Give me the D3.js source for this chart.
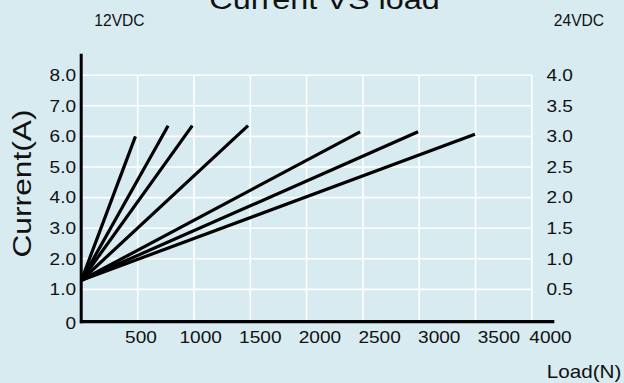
<!DOCTYPE html>
<html><head><meta charset="utf-8">
<script src="https://cdn.jsdelivr.net/npm/d3@7"></script>
<style>body{margin:0;background:#d7ebf0;}svg{display:block;}text{font-family:"Liberation Sans",Arial,sans-serif;fill:#111;}</style>
</head><body>
<svg id="c" width="624" height="383"></svg>
<script>
const title = "Current VS load";
const leftLabel = "12VDC";
const rightLabel = "24VDC";
const yTitle = "Current(A)";
const xTitle = "Load(N)";
const xTicks = [500, 1000, 1500, 2000, 2500, 3000, 3500, 4000];
const yLeftTicks = [0, 1, 2, 3, 4, 5, 6, 7, 8];
const yRightTicks = [0.5, 1.0, 1.5, 2.0, 2.5, 3.0, 3.5, 4.0];
const startLoad = [0, 0, 0, 0, 0, 0, 0];
const startCurrent = [1.3, 1.3, 1.3, 1.3, 1.3, 1.3, 1.3];
const endLoad = [480, 770, 985, 1480, 2475, 2990, 3495];
const endCurrent = [6.0, 6.35, 6.35, 6.35, 6.15, 6.15, 6.07];

const svg = d3.select("#c");
svg.append("rect").attr("width",624).attr("height",383).attr("fill","#d7ebf0");

const x = d3.scaleLinear().domain([0,4000]).range([81.4,531.8]);
const xLab = d3.scaleLinear().domain([0,4000]).range([81.3,558.6]);
const y = d3.scaleLinear().domain([0,8]).range([320,75.2]);
const yR = d3.scaleLinear().domain([0,4]).range([320,75.2]);
const S = 1.19;

// grid
const g = svg.append("g");
g.selectAll("line.h").data(yLeftTicks.filter(d=>d>0)).join("line")
  .attr("x1",x(0)).attr("x2",x(4000)).attr("y1",d=>y(d)).attr("y2",d=>y(d))
  .attr("stroke","#fff").attr("stroke-width",1.6);
g.selectAll("line.v").data(xTicks).join("line")
  .attr("x1",d=>x(d)).attr("x2",d=>x(d)).attr("y1",y(0)).attr("y2",y(8))
  .attr("stroke","#fff").attr("stroke-width",1.6);

// data lines
const idx = d3.range(endLoad.length);
svg.append("g").selectAll("line").data(idx).join("line")
  .attr("x1",i=>x(startLoad[i])).attr("y1",i=>y(startCurrent[i]))
  .attr("x2",i=>x(endLoad[i])).attr("y2",i=>y(endCurrent[i]))
  .attr("stroke","#000").attr("stroke-width",3.2).attr("stroke-linecap","butt");

// axes lines
svg.append("line").attr("x1",x(0)-0.2).attr("x2",x(0)-0.2).attr("y1",y(8.7)).attr("y2",y(0)+3.3)
  .attr("stroke","#000").attr("stroke-width",3);
svg.append("line").attr("x1",x(0)-1.5).attr("x2",x(4200)).attr("y1",y(0)+1.7).attr("y2",y(0)+1.7)
  .attr("stroke","#000").attr("stroke-width",3.3);

// left tick labels
svg.append("g").selectAll("text").data(yLeftTicks).join("text")
  .attr("transform",d=>`translate(76,${y(d)+(d===0?3:0)}) scale(${S},1)`)
  .attr("text-anchor","end").attr("dy","0.36em").attr("font-size",16)
  .text(d=>d===0?"0":d.toFixed(1));
// right tick labels
svg.append("g").selectAll("text").data(yRightTicks).join("text")
  .attr("transform",d=>`translate(546.5,${yR(d)}) scale(${S},1)`)
  .attr("text-anchor","start").attr("dy","0.36em").attr("font-size",16)
  .text(d=>d.toFixed(1));
// x tick labels
svg.append("g").selectAll("text").data(xTicks).join("text")
  .attr("transform",d=>`translate(${Math.min(xLab(d),550.5)},342.8) scale(${S},1)`)
  .attr("text-anchor","middle").attr("font-size",16)
  .text(d=>d);

// titles
svg.append("text").attr("transform",`translate(324.5,9) scale(1.2,1)`)
  .attr("text-anchor","middle").attr("font-size",27).text(title);
svg.append("text").attr("x",119.5).attr("y",25.7).attr("text-anchor","middle").attr("font-size",15.6).text(leftLabel);
svg.append("text").attr("x",579).attr("y",25.7).attr("text-anchor","middle").attr("font-size",15.6).text(rightLabel);
svg.append("text").attr("transform",`translate(584,378) scale(1.18,1)`)
  .attr("text-anchor","middle").attr("font-size",17.5).text(xTitle);
svg.append("text").attr("transform",`translate(30.5,183.5) rotate(-90) scale(1.27,1)`)
  .attr("text-anchor","middle").attr("font-size",25).text(yTitle);
</script>
</body></html>
